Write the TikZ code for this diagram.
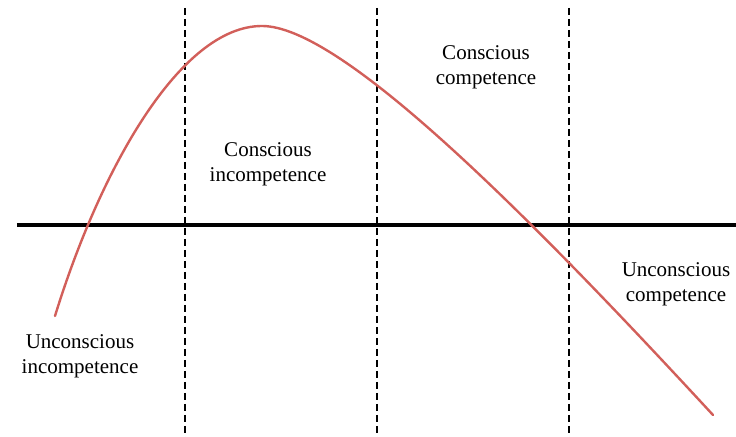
\documentclass[tikz,border=0pt]{standalone}
\usepackage{fontspec}
\setmainfont{Liberation Serif}
\usetikzlibrary{positioning}
\definecolor{curvered}{RGB}{210,95,90}

\begin{document}
\begin{tikzpicture}[
  x=0.5pt, y=-0.5pt,
  stage/.style={align=center, font=\fontsize{10.5}{12.5}\selectfont, inner sep=0pt},
  divider/.style={dash pattern=on 3.5pt off 2pt, line width=1pt},
  axis/.style={line width=2pt},
  learning/.style={curvered, line width=1.2pt, line cap=round}
]
  \useasboundingbox (0,0) rectangle (736,437);
  % stage dividers
  \foreach \x in {185,377,569}
    \draw[divider] (\x,8) -- (\x,437);
  \coordinate (axl) at (17,225);
  \coordinate (axr) at (736,225);
  \draw[axis] (axl) -- (axr);
  % learning curve
  \coordinate (start) at (55,316);
  \coordinate (peak) at (262,26);
  \coordinate (end) at (713,415);
  \draw[learning] (start) .. controls (100,170) and (180,26) .. (peak)
    .. controls (340,26) and (522,208) .. (end);
  \node[stage] (ui) at (80,356) {Unconscious\\incompetence};
  \node[stage] (ci) at (268,164) {Conscious\\incompetence};
  \node[stage] (cc) at (486,67) {Conscious\\competence};
  \node[stage] (uc) at (676,284) {Unconscious\\competence};
\end{tikzpicture}
\end{document}
